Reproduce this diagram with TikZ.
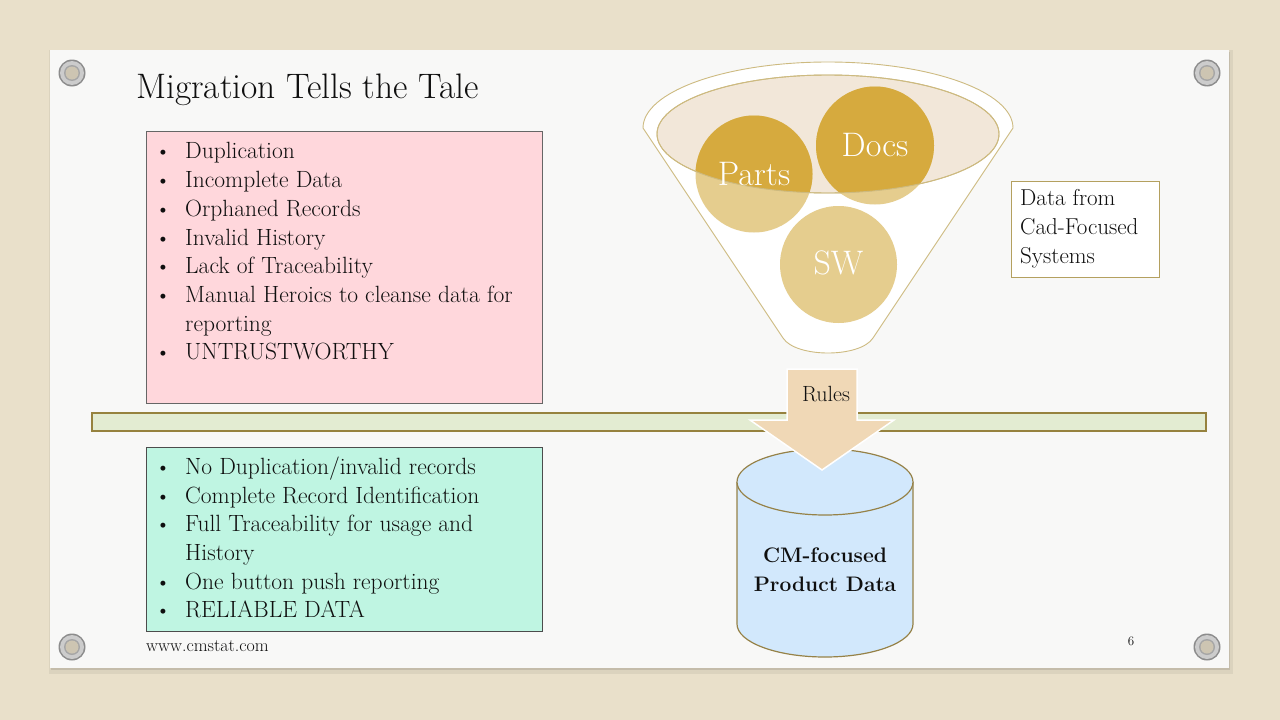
\documentclass[tikz,border=0pt]{standalone}
\definecolor{canvas}{RGB}{233,224,202}
\definecolor{slide}{RGB}{248,248,247}
\definecolor{pinkbox}{RGB}{255,215,220}
\definecolor{mintbox}{RGB}{191,245,226}
\definecolor{barfill}{RGB}{227,236,210}
\definecolor{barline}{RGB}{150,130,62}
\definecolor{goldline}{RGB}{205,186,128}
\definecolor{golddark}{RGB}{214,170,62}
\definecolor{goldlight}{RGB}{229,205,142}
\definecolor{ellfill}{RGB}{242,231,217}
\definecolor{arrowfill}{RGB}{240,216,182}
\definecolor{cylfill}{RGB}{210,232,252}
\definecolor{cylline}{RGB}{150,130,72}
\definecolor{databox}{RGB}{180,160,95}
\definecolor{textc}{RGB}{15,15,15}
\tikzset{
  listtext/.style={anchor=base west, inner sep=0pt, text=textc, font=\fontsize{23.5}{28}\selectfont},
  bul/.style={anchor=base west, inner sep=0pt, text=textc, font=\fontsize{22}{26}\selectfont},
  circtext/.style={text=white, font=\fontsize{34}{40}\selectfont, inner sep=0pt},
  boxline/.style={line width=0.8pt},
}
\newcommand{\screw}[2]{%
  \fill[black!45] (#1,#2) circle[radius=13.5];
  \fill[black!20] (#1,#2) circle[radius=12];
  \fill[black!35] (#1,#2) circle[radius=8];
  \fill[black!12!canvas] (#1,#2) circle[radius=6.5];
}
\begin{document}
\begin{tikzpicture}[x=1pt,y=-1pt]
\useasboundingbox (0,0) rectangle (1280,720);
\fill[canvas] (0,0) rectangle (1280,720);
% slide shadow
\fill[black!12!canvas] (51,52) rectangle (1231,671);
\fill[black!6!canvas] (49,50) rectangle (1233,674);
\fill[black!16!canvas] (51,52) rectangle (1230,670);
\fill[slide] (50,50) rectangle (1229,668);
% screws
\screw{72}{73}
\screw{1207}{73}
\screw{72}{647}
\screw{1207}{647}
% title
\node[anchor=base west, inner sep=0pt, font=\fontsize{35.4}{40}\selectfont, text=textc] (title) at (136,98) {Migration Tells the Tale};
% pink box
\draw[boxline, fill=pinkbox, draw=black!60] (146,131) rectangle (542,403);
\foreach \y/\t [count=\i] in {158/{Duplication}, 187/{Incomplete Data}, 216/{Orphaned Records}, 245/{Invalid History}, 273/{Lack of Traceability}, 302/{Manual Heroics to cleanse data for}, 359/{UNTRUSTWORTHY}}{
  \node[bul] (pb\i) at (155,\y) {\textbullet};
  \node[listtext] (pt\i) at (185,\y) {\t};
}
\node[listtext] (pt6b) at (185,331) {reporting};
% green bar
\draw[line width=1.2pt, draw=barline, fill=barfill] (92,413) rectangle (1206,431);
% mint box
\draw[boxline, fill=mintbox, draw=black!70] (146,447) rectangle (542,631);
\foreach \y/\t [count=\i] in {474/{No Duplication/invalid records}, 503/{Complete Record Identification}, 531/{Full Traceability for usage and}, 589/{One button push reporting}, 617/{RELIABLE DATA}}{
  \node[bul] (gb\i) at (155,\y) {\textbullet};
  \node[listtext] (gt\i) at (185,\y) {\t};
}
\node[listtext] (gt3b) at (185,560) {History};
% footer
\node[anchor=base west, inner sep=0pt, font=\fontsize{17.9}{20}\selectfont, text=textc] (url) at (146,651) {www.cmstat.com};
\node[anchor=base, inner sep=0pt, font=\fontsize{13}{15}\selectfont, text=textc] (pagenum) at (1131,645) {6};
% funnel
\draw[line width=0.9pt, draw=goldline, fill=white] (643,128) arc[start angle=180, end angle=360, x radius=185, y radius=66] -- (873,338) .. controls (860,358) and (796,358) .. (783,338) -- cycle;
\draw[line width=0.9pt, draw=goldline, fill=ellfill] (828,134) ellipse[x radius=171, y radius=59];
% circles
\fill[goldlight] (754,174) circle[radius=58.5];
\fill[goldlight] (875,145.5) circle[radius=59];
\fill[goldlight] (838.5,264.5) circle[radius=58.5];
\begin{scope}
  \clip (828,134) ellipse[x radius=171, y radius=59];
  \fill[golddark] (754,174) circle[radius=58.5];
  \fill[golddark] (875,145.5) circle[radius=59];
\end{scope}
\draw[line width=0.9pt, draw=goldline] (828,134) ellipse[x radius=171, y radius=59];
\node[circtext] (parts) at (754,174) {Parts};
\node[circtext] (docs) at (875,145) {Docs};
\node[circtext] (sw) at (838.5,263) {SW};
% data box
\draw[line width=0.9pt, draw=databox, fill=white] (1011,181) rectangle (1159,277);
\node[anchor=north west, align=left, inner sep=0pt, font=\fontsize{23}{29}\selectfont, text=textc] (datafrom) at (1020,189) {Data from\\Cad-Focused\\Systems};
% cylinder
\draw[line width=1.2pt, draw=cylline, fill=cylfill] (737,482) -- (737,624) arc[start angle=180, end angle=0, x radius=88, y radius=33] -- (913,482);
\draw[line width=1.2pt, draw=cylline, fill=cylfill] (825,482) ellipse[x radius=88, y radius=33];
\node[align=center, font=\bfseries\fontsize{21}{29}\selectfont, text=textc, inner sep=0pt] (cm) at (825,570) {CM-focused\\Product Data};
% arrow
\draw[line width=1.5pt, draw=white, fill=arrowfill, line join=miter] (787,369) -- (857,369) -- (857,420) -- (894,420) -- (822,470) -- (750,420) -- (787,420) -- cycle;
\node[font=\fontsize{22}{26}\selectfont, text=textc, inner sep=0pt] (rules) at (826,394) {Rules};
\end{tikzpicture}
\end{document}
